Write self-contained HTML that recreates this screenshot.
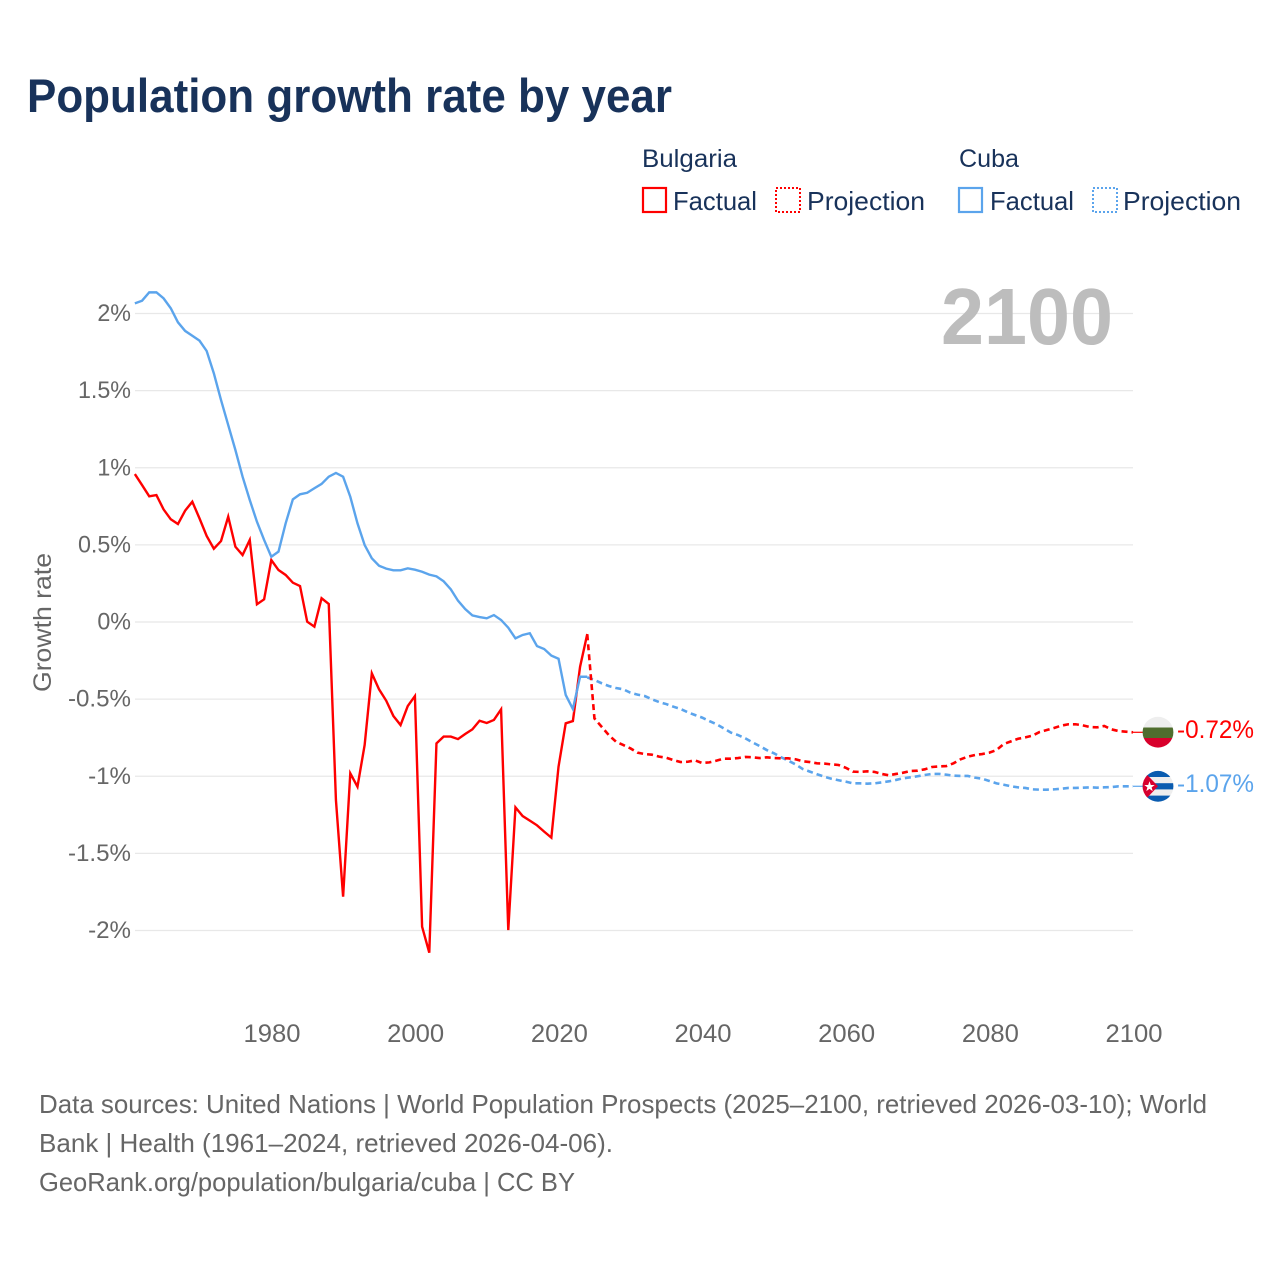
<!DOCTYPE html>
<html lang="en">
<head>
<meta charset="utf-8">
<title>Population growth rate by year</title>
<style>
html,body{margin:0;padding:0;background:#fff}
svg{display:block}
text{font-family:"Liberation Sans",sans-serif}
</style>
</head>
<body>
<svg id="chart" xmlns="http://www.w3.org/2000/svg" width="1280" height="1280" viewBox="0 0 1280 1280">
  <rect width="1280" height="1280" fill="#fff"/>
  <text x="27" y="112" font-size="47" font-weight="700" fill="#18325a" textLength="645" lengthAdjust="spacingAndGlyphs">Population growth rate by year</text>

  <g>
    <text x="642" y="167" font-size="25" fill="#18325a" textLength="95" lengthAdjust="spacingAndGlyphs">Bulgaria</text>
    <rect x="643" y="188" width="23" height="24" fill="none" stroke="#ff0000" stroke-width="2.2"/>
    <text x="673" y="210" font-size="26" fill="#18325a" textLength="84" lengthAdjust="spacingAndGlyphs">Factual</text>
    <rect x="776" y="188" width="24" height="24" fill="none" stroke="#ff0000" stroke-width="2" stroke-dasharray="2 2"/>
    <text x="807" y="210" font-size="26" fill="#18325a" textLength="118" lengthAdjust="spacingAndGlyphs">Projection</text>
    <text x="959" y="167" font-size="25" fill="#18325a" textLength="60" lengthAdjust="spacingAndGlyphs">Cuba</text>
    <rect x="959" y="188" width="23" height="24" fill="none" stroke="#5ba4ec" stroke-width="2.2"/>
    <text x="990" y="210" font-size="26" fill="#18325a" textLength="84" lengthAdjust="spacingAndGlyphs">Factual</text>
    <rect x="1093" y="188" width="24" height="24" fill="none" stroke="#5ba4ec" stroke-width="2" stroke-dasharray="2 2"/>
    <text x="1123" y="210" font-size="26" fill="#18325a" textLength="118" lengthAdjust="spacingAndGlyphs">Projection</text>
  </g>

  <g id="grid"></g>
  <g id="y-ticks"></g>
  <g id="x-ticks"></g>

  <text transform="translate(51,692) rotate(-90)" font-size="25" fill="#666" textLength="139" lengthAdjust="spacingAndGlyphs">Growth rate</text>
  <text x="941" y="344" font-size="80" font-weight="700" fill="#bdbdbd" textLength="172" lengthAdjust="spacingAndGlyphs">2100</text>

  <g id="series"></g>

  <defs>
    <clipPath id="clip-bg"><circle cx="1158" cy="732.2" r="15.4"/></clipPath>
    <clipPath id="clip-cu"><circle cx="1158" cy="786.3" r="15.4"/></clipPath>
  </defs>
  <g clip-path="url(#clip-bg)">
    <rect x="1142" y="716" width="32" height="12" fill="#eeeeee"/>
    <rect x="1142" y="727.5" width="32" height="10.5" fill="#4f6d2e"/>
    <rect x="1142" y="738" width="32" height="11" fill="#d8002b"/>
  </g>
  <g clip-path="url(#clip-cu)">
    <rect x="1142" y="770" width="32" height="33" fill="#eeeeee"/>
    <rect x="1142" y="770" width="32" height="7" fill="#0a5cb0"/>
    <rect x="1142" y="783.2" width="32" height="6.2" fill="#0a5cb0"/>
    <rect x="1142" y="795.6" width="32" height="8" fill="#0a5cb0"/>
    <polygon points="1142.6,770 1158,786.3 1142.6,802.6" fill="#d7002f"/>
    <polygon points="1149.5,781.3 1150.8,785 1154.7,785 1151.6,787.4 1152.7,791.1 1149.5,788.9 1146.3,791.1 1147.4,787.4 1144.3,785 1148.2,785" fill="#fff"/>
  </g>
  <text x="1177" y="738" font-size="25" fill="#ff0000" textLength="77" lengthAdjust="spacingAndGlyphs">-0.72%</text>
  <text x="1177" y="792" font-size="25" fill="#5ba4ec" textLength="77" lengthAdjust="spacingAndGlyphs">-1.07%</text>

  <g font-size="26" fill="#666">
    <text x="39" y="1113" textLength="1168" lengthAdjust="spacingAndGlyphs">Data sources: United Nations | World Population Prospects (2025–2100, retrieved 2026-03-10); World</text>
    <text x="39" y="1152" textLength="574" lengthAdjust="spacingAndGlyphs">Bank | Health (1961–2024, retrieved 2026-04-06).</text>
    <text x="39" y="1191" textLength="536" lengthAdjust="spacingAndGlyphs">GeoRank.org/population/bulgaria/cuba | CC BY</text>
  </g>
</svg>
<script>
const yTickValues = [2, 1.5, 1, 0.5, 0, -0.5, -1, -1.5, -2];
const yTickLabels = ["2%", "1.5%", "1%", "0.5%", "0%", "-0.5%", "-1%", "-1.5%", "-2%"];
const xTickYears = [1980, 2000, 2020, 2040, 2060, 2080, 2100];
const xTickLabels = ["1980", "2000", "2020", "2040", "2060", "2080", "2100"];

const factualStartYear = 1961;
const projectionStartYear = 2024;

const bulgariaFactual = [
  0.959, 0.888, 0.815, 0.823, 0.730, 0.666, 0.635, 0.722, 0.780, 0.672,
  0.558, 0.475, 0.525, 0.683, 0.488, 0.434, 0.532, 0.115, 0.147, 0.402,
  0.337, 0.305, 0.255, 0.233, 0.002, -0.030, 0.154, 0.117, -1.154, -1.781,
  -0.981, -1.068, -0.797, -0.333, -0.436, -0.510, -0.609, -0.668, -0.545, -0.480,
  -1.975, -2.144, -0.787, -0.743, -0.743, -0.759, -0.726, -0.696, -0.640, -0.655,
  -0.635, -0.566, -1.997, -1.202, -1.258, -1.288, -1.318, -1.359, -1.398, -0.938,
  -0.657, -0.642, -0.290, -0.078
];
const cubaFactual = [
  2.066, 2.083, 2.137, 2.137, 2.098, 2.034, 1.943, 1.887, 1.856, 1.824,
  1.757, 1.612, 1.439, 1.277, 1.115, 0.942, 0.791, 0.650, 0.532, 0.423,
  0.456, 0.640, 0.795, 0.828, 0.838, 0.867, 0.895, 0.942, 0.966, 0.942,
  0.812, 0.640, 0.499, 0.413, 0.365, 0.346, 0.335, 0.335, 0.348, 0.339,
  0.326, 0.307, 0.296, 0.264, 0.212, 0.138, 0.084, 0.043, 0.032, 0.024,
  0.045, 0.013, -0.037, -0.106, -0.084, -0.073, -0.156, -0.175, -0.218, -0.238,
  -0.473, -0.564, -0.355, -0.355
];
const bulgariaProjection = [
  -0.080, -0.625, -0.679, -0.733, -0.776, -0.797, -0.819, -0.847, -0.856, -0.860,
  -0.873, -0.880, -0.895, -0.908, -0.906, -0.897, -0.914, -0.910, -0.899, -0.886,
  -0.886, -0.882, -0.875, -0.877, -0.882, -0.877, -0.882, -0.884, -0.884, -0.890,
  -0.903, -0.908, -0.916, -0.918, -0.923, -0.927, -0.945, -0.970, -0.972, -0.968,
  -0.972, -0.985, -0.994, -0.985, -0.977, -0.966, -0.964, -0.955, -0.940, -0.936,
  -0.934, -0.916, -0.890, -0.873, -0.862, -0.856, -0.847, -0.830, -0.791, -0.774,
  -0.757, -0.748, -0.737, -0.713, -0.700, -0.687, -0.672, -0.663, -0.663, -0.670,
  -0.681, -0.683, -0.674, -0.696, -0.707, -0.711, -0.715
];
const cubaProjection = [
  -0.359, -0.376, -0.397, -0.415, -0.428, -0.436, -0.458, -0.471, -0.480, -0.501,
  -0.519, -0.532, -0.549, -0.564, -0.585, -0.603, -0.620, -0.642, -0.663, -0.689,
  -0.717, -0.733, -0.754, -0.780, -0.804, -0.830, -0.851, -0.877, -0.899, -0.923,
  -0.953, -0.970, -0.987, -1.003, -1.016, -1.026, -1.035, -1.046, -1.046, -1.048,
  -1.046, -1.040, -1.033, -1.024, -1.013, -1.007, -1.000, -0.992, -0.985, -0.985,
  -0.990, -0.996, -0.998, -0.998, -1.009, -1.016, -1.031, -1.046, -1.055, -1.065,
  -1.072, -1.076, -1.085, -1.087, -1.087, -1.085, -1.081, -1.076, -1.076, -1.074,
  -1.072, -1.074, -1.072, -1.070, -1.065, -1.065, -1.065
];

const SVG_NS = "http://www.w3.org/2000/svg";
const RED = "#ff0000";
const BLUE = "#5ba4ec";

function xScale(year) {
  return 271.3 + (year - 1980) * (1133 - 271.3) / 120;
}
function tickX(year) {
  return 272 + (year - 1980) * (1134 - 272) / 120;
}
function yScale(value) {
  return 622 - value * 154.25;
}

const gridGroup = document.getElementById("grid");
const yTickGroup = document.getElementById("y-ticks");
const xTickGroup = document.getElementById("x-ticks");
const seriesGroup = document.getElementById("series");

yTickValues.forEach(function (value, i) {
  const line = document.createElementNS(SVG_NS, "line");
  
  
  line.setAttribute("x1", 135);
  line.setAttribute("x2", 1133);
  line.setAttribute("y1", yScale(value));
  line.setAttribute("y2", yScale(value));
  line.setAttribute("stroke", "#e8e8e8");
  line.setAttribute("stroke-width", "1.2");
  gridGroup.appendChild(line);

  const label = document.createElementNS(SVG_NS, "text");
  
  
  label.setAttribute("x", 131);
  label.setAttribute("y", yScale(value) + 7.5);
  label.setAttribute("text-anchor", "end");
  label.setAttribute("font-size", "24");
  label.setAttribute("fill", "#666");
  label.textContent = yTickLabels[i];
  yTickGroup.appendChild(label);
  label.setAttribute("textLength", label.getComputedTextLength() * (value < 0 ? 1.005 : 0.97));
  label.setAttribute("lengthAdjust", "spacingAndGlyphs");
});

xTickYears.forEach(function (year, i) {
  const label = document.createElementNS(SVG_NS, "text");
  
  
  label.setAttribute("x", tickX(year));
  label.setAttribute("y", 1042);
  label.setAttribute("text-anchor", "middle");
  label.setAttribute("font-size", "25");
  label.setAttribute("fill", "#666");
  label.textContent = xTickLabels[i];
  xTickGroup.appendChild(label);
  label.setAttribute("textLength", 57);
  label.setAttribute("lengthAdjust", "spacingAndGlyphs");
});

function pointsFor(values, startYear) {
  return values.map(function (v, i) {
    return xScale(startYear + i).toFixed(2) + "," + yScale(v).toFixed(2);
  }).join(" ");
}

function drawLine(name, values, startYear, color, dashed) {
  const line = document.createElementNS(SVG_NS, "polyline");
  
  
  line.setAttribute("points", pointsFor(values, startYear));
  line.setAttribute("fill", "none");
  line.setAttribute("stroke", color);
  line.setAttribute("stroke-width", dashed ? "2.6" : "2.4");
  line.setAttribute("stroke-linejoin", "miter");
  if (dashed) {
    line.setAttribute("stroke-dasharray", "6 4");
  }
  seriesGroup.appendChild(line);
}

function drawLeader(name, value, color) {
  const leader = document.createElementNS(SVG_NS, "line");
  
  
  leader.setAttribute("x1", xScale(2100));
  leader.setAttribute("x2", 1143);
  leader.setAttribute("y1", yScale(value));
  leader.setAttribute("y2", yScale(value));
  leader.setAttribute("stroke", color);
  leader.setAttribute("stroke-width", "1.2");
  seriesGroup.appendChild(leader);
}

drawLine("cuba-projection-line", cubaProjection, projectionStartYear, BLUE, true);
drawLine("bulgaria-projection-line", bulgariaProjection, projectionStartYear, RED, true);
drawLine("bulgaria-factual-line", bulgariaFactual, factualStartYear, RED, false);
drawLine("cuba-factual-line", cubaFactual, factualStartYear, BLUE, false);
drawLeader("bulgaria-end-leader", bulgariaProjection[bulgariaProjection.length - 1], RED);
drawLeader("cuba-end-leader", cubaProjection[cubaProjection.length - 1], BLUE);
</script>
</body>
</html>
